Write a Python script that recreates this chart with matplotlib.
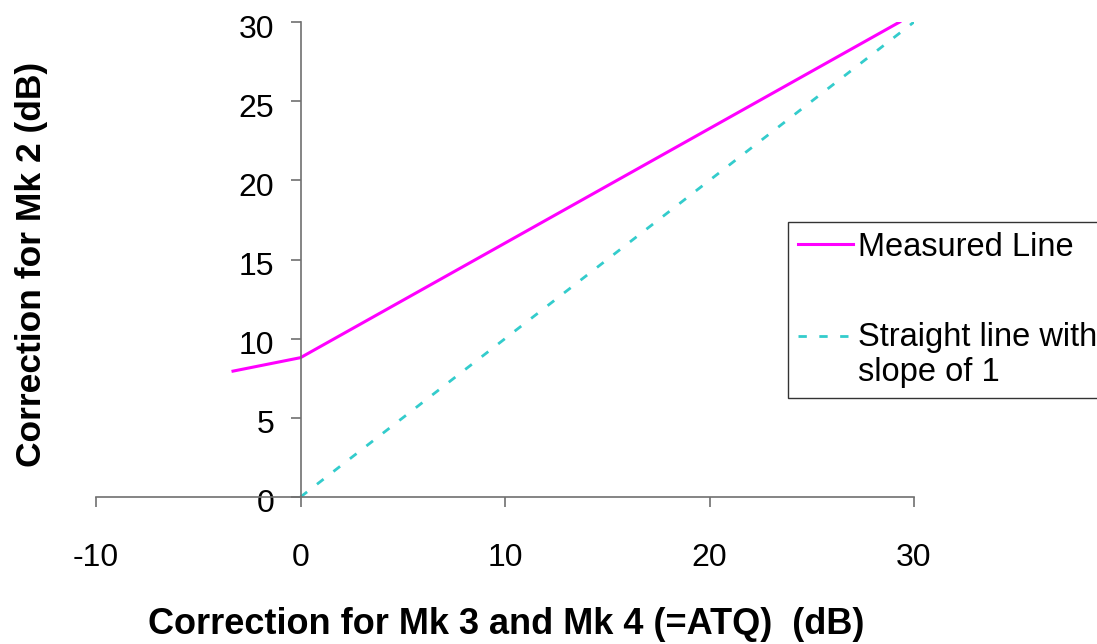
import matplotlib.pyplot as plt
import numpy as np
from matplotlib.transforms import ScaledTranslation

plt.rcParams['font.family'] = ['Liberation Sans', 'DejaVu Sans']
plt.rcParams['axes.unicode_minus'] = False

# measured correction curve
measured_x = [-3.3, 0.0, 29.3]
measured_y = [7.95, 8.8, 30.0]

# reference line with slope 1
ref_x = [0, 30]
ref_y = [0, 30]

x_ticks = [-10, 0, 10, 20, 30]
y_ticks = [0, 5, 10, 15, 20, 25, 30]

W, H = 1097, 644
fig = plt.figure(figsize=(W / 100, H / 100), dpi=100)
ax = fig.add_axes([96 / W, 1 - 497 / H, (914 - 96) / W, (497 - 22) / H])

ax.plot(measured_x, measured_y, color='#ff00ff', lw=2.2, label='Measured Line',
        solid_joinstyle='round')
ax.plot(ref_x, ref_y, color='#33cccc', lw=2, ls=(0, (3, 4.5)),
        label='Straight line with\nslope of 1')

ax.set_xlim(-10, 30)
ax.set_ylim(0, 30)
ax.set_xticks(x_ticks)
ax.set_yticks(y_ticks)

for side in ['top', 'right']:
    ax.spines[side].set_visible(False)
ax.spines['left'].set_position(('data', 0))
ax.spines['bottom'].set_position(('data', 0))
for side in ['left', 'bottom']:
    ax.spines[side].set_color('#707070')
    ax.spines[side].set_linewidth(1.2)

ax.tick_params(axis='both', direction='out', length=7, width=1.2, color='#707070',
               labelsize=23)
ax.tick_params(axis='x', pad=26)
ax.tick_params(axis='y', pad=12)

# labels in the original sit a little below their ticks
shift = ScaledTranslation(0, -4 / 100, fig.dpi_scale_trans)
for lab in ax.get_yticklabels():
    lab.set_transform(lab.get_transform() + shift)

fig.text(506 / W, 1 - 624 / H, 'Correction for Mk 3 and Mk 4 (=ATQ)  (dB)',
         ha='center', va='center', fontsize=26, fontweight='bold')
fig.text(32 / W, 1 - 264 / H, 'Correction for Mk 2 (dB)', rotation=90,
         ha='center', va='center', fontsize=25.5, fontweight='bold')

leg = ax.legend(loc='upper left', bbox_to_anchor=(788 / W, 1 - 222 / H),
                bbox_transform=fig.transFigure, fontsize=23.5, frameon=True,
                fancybox=False, borderaxespad=0, handlelength=1.7,
                labelspacing=1.8, borderpad=0.3, handletextpad=0.15)
leg.get_frame().set_edgecolor('black')
leg.get_frame().set_linewidth(1.0)
# the dashed key sits level with the first line of its label
dash_key = leg.legend_handles[1]
dash_key.set_ydata(np.asarray(dash_key.get_ydata()) + 14)

fig.savefig('out.png', dpi=100)
